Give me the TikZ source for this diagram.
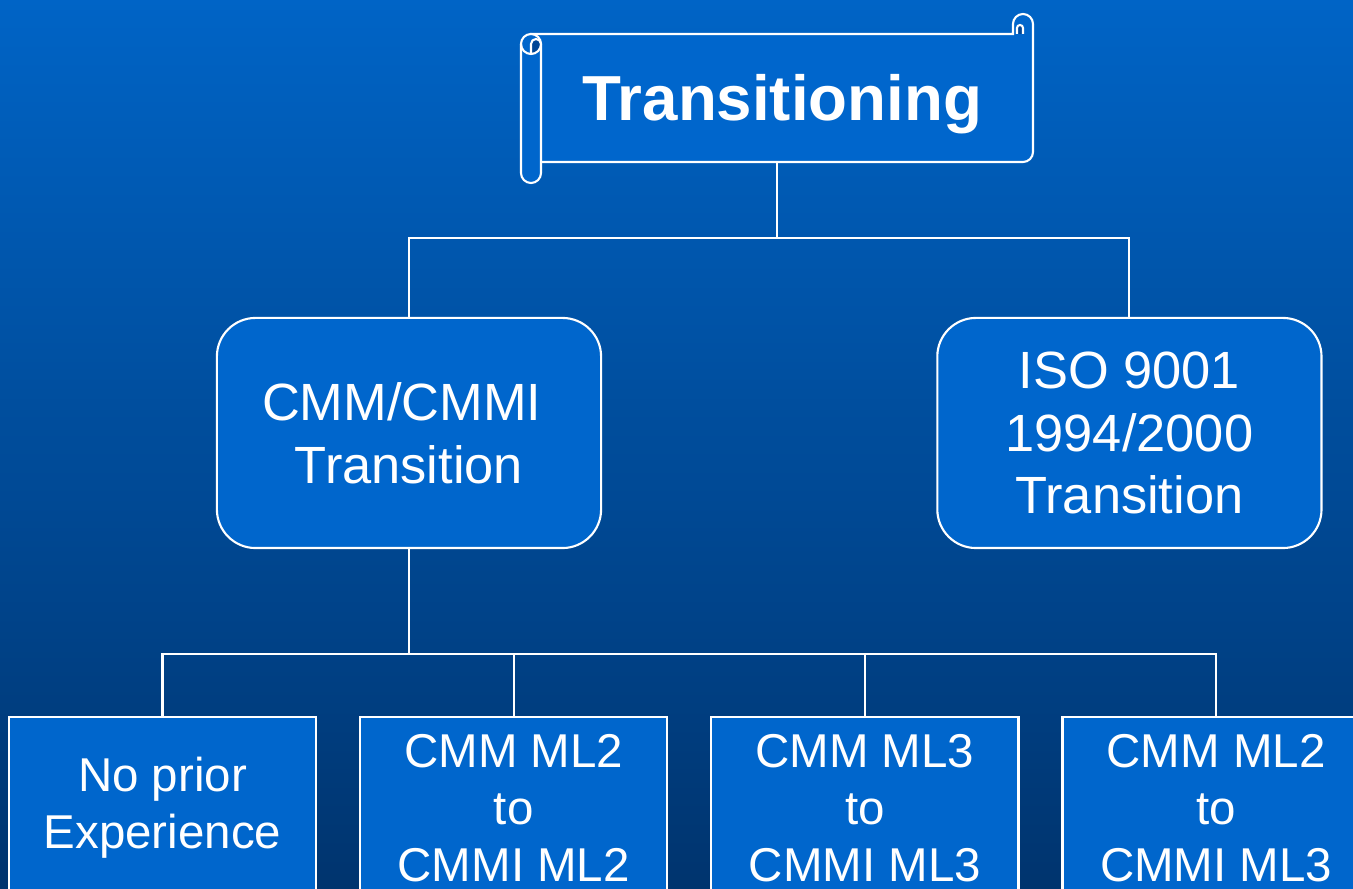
\documentclass[tikz,border=0pt]{standalone}
\usepackage{fontspec}
\setmainfont{Liberation Sans}
\usetikzlibrary{positioning}

\definecolor{bgtop}{RGB}{0,100,198}
\definecolor{bgbottom}{RGB}{0,52,110}
\definecolor{boxfill}{RGB}{0,102,204}
\definecolor{curl}{RGB}{0,70,150}

\tikzset{
  scroll/.style={draw=white,line width=0.6pt,fill=boxfill},
  link/.style={draw=white,line width=0.6pt},
  midbox/.style={draw=white,line width=0.6pt,fill=boxfill,rounded corners=11pt,
    minimum width=3.84cm,minimum height=2.30cm,align=center,text=white,
    font=\fontsize{14.9}{17.9}\selectfont},
  leafbox/.style={draw=white,line width=0.6pt,fill=boxfill,
    minimum width=3.07cm,minimum height=1.82cm,align=center,text=white,
    font=\fontsize{13.5}{16.2}\selectfont}
}

\begin{document}
\begin{tikzpicture}[x=0.01cm,y=-0.01cm,node distance=3.51cm]

\useasboundingbox (0,0) rectangle (1353,889);
\shade[top color=bgtop,bottom color=bgbottom] (0,0) rectangle (1353,889);

% scroll
\path[scroll] (531,34) -- (1013,34) -- (1013,24)
   arc[start angle=180,end angle=360,radius=10] -- (1033,152)
   arc[start angle=0,end angle=90,radius=10] -- (541,162) -- (531,162) -- cycle;
\filldraw[draw=white,line width=0.6pt,fill=curl] (1017,34) -- (1017,28)
   arc[start angle=180,end angle=360,radius=3] -- (1023,34);
\path[scroll] (521,44) -- (521,173) arc[start angle=180,end angle=0,radius=10]
   -- (541,44) arc[start angle=0,end angle=-180,radius=10] -- cycle;
\filldraw[draw=white,line width=0.6pt,fill=curl] (531,54) -- (531,44)
   arc[start angle=180,end angle=360,radius=5]
   arc[start angle=0,end angle=90,radius=10];
\draw[white,line width=0.6pt] (521,44) arc[start angle=180,end angle=90,radius=10];

\node[text=white,font=\bfseries\fontsize{18.1}{21}\selectfont,
      minimum width=5.12cm,minimum height=1.28cm,text height=13pt,text depth=0pt]
      (title) at (777,98) {\hspace*{3pt}Transitioning};

\node[midbox] (cmm) at (409,433) {CMM/CMMI\hspace*{0.278em}\\Transition};
\node[midbox] (iso) [right of=cmm,node distance=7.2cm] {ISO 9001\\1994/2000\\Transition};

\node[leafbox] (noprior) at (162.5,808) {No prior\\Experience};
\node[leafbox] (mltwo) [right of=noprior] {CMM ML2\\to\\CMMI ML2};
\node[leafbox] (mlthree) [right of=mltwo] {CMM ML3\\to\\CMMI ML3};
\node[leafbox] (twothree) [right of=mlthree] {CMM ML2\\to\\CMMI ML3};

\draw[link] (title.south) -- ++(0,75) -| (cmm.north);
\draw[link] (title.south) ++(0,75) -| (iso.north);

\draw[link] (cmm.south) -- ++(0,105) -| (noprior.north);
\draw[link] (cmm.south) ++(0,105) -| (mltwo.north);
\draw[link] (cmm.south) ++(0,105) -| (mlthree.north);
\draw[link] (cmm.south) ++(0,105) -| (twothree.north);

\end{tikzpicture}
\end{document}
